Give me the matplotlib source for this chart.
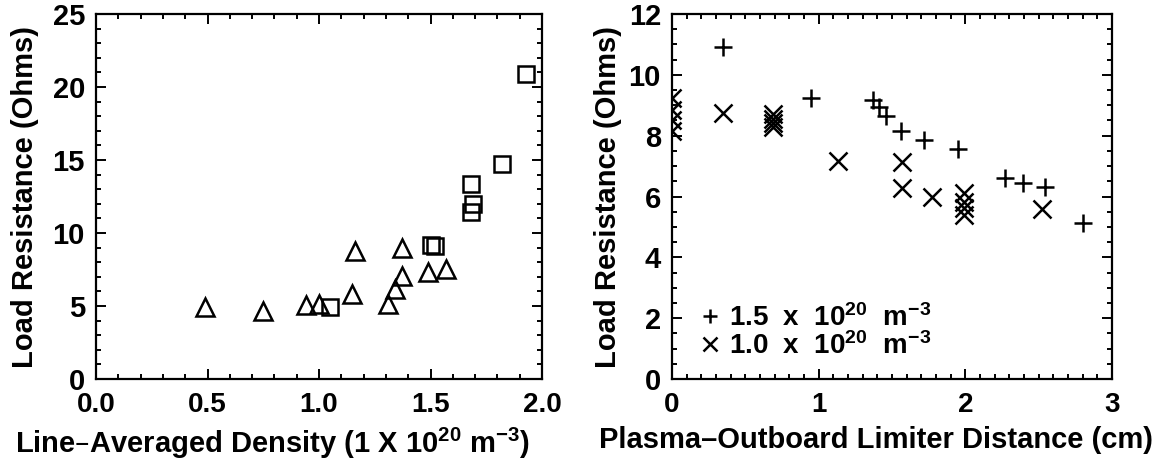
import matplotlib.pyplot as plt
from matplotlib.ticker import MultipleLocator, FormatStrFormatter
from matplotlib.transforms import ScaledTranslation

# load resistance vs line-averaged density
dens_tri = [0.49, 0.75, 0.94, 1.00, 1.15, 1.16, 1.31, 1.34, 1.37, 1.37, 1.49, 1.57]
res_tri = [4.95, 4.68, 5.07, 5.11, 5.82, 8.8, 5.14, 6.19, 7.05, 8.95, 7.33, 7.51]
dens_sq = [1.05, 1.50, 1.52, 1.68, 1.69, 1.68, 1.82, 1.93]
res_sq = [4.91, 9.18, 9.11, 13.33, 11.99, 11.46, 14.7, 20.9]

# load resistance vs plasma-limiter gap, two densities
gap_hi = [0.35, 0.95, 1.37, 1.41, 1.46, 1.56, 1.72, 1.95, 2.27, 2.39, 2.54, 2.80]
res_hi = [10.9, 9.23, 9.17, 8.95, 8.65, 8.15, 7.86, 7.56, 6.60, 6.45, 6.30, 5.14]
gap_lo = [0.0, 0.0, 0.0, 0.0, 0.35, 0.69, 0.69, 0.69, 0.69, 1.13, 1.57, 1.57,
          1.77, 1.99, 1.99, 1.99, 1.99, 2.52]
res_lo = [9.25, 8.85, 8.5, 8.15, 8.75, 8.7, 8.55, 8.42, 8.28, 7.18, 7.12, 6.27,
          5.99, 6.10, 5.83, 5.61, 5.40, 5.58]

plt.rcParams['mathtext.default'] = 'regular'
font = ['Liberation Sans', 'DejaVu Sans']

fig = plt.figure(figsize=(11.73, 4.59), dpi=100)
ax1 = fig.add_axes([96 / 1173, 80 / 459, 446 / 1173, 365 / 459])
ax2 = fig.add_axes([672 / 1173, 80 / 459, 440 / 1173, 365 / 459])

ax1.plot(dens_tri, res_tri, '^', ms=13, mfc='none', mec='black', mew=1.8)
ax1.plot(dens_sq, res_sq, 's', ms=12, mfc='none', mec='black', mew=1.8)
ax1.set_xlim(0, 2.0)
ax1.set_ylim(0, 25)
ax1.xaxis.set_major_locator(MultipleLocator(0.5))
ax1.xaxis.set_minor_locator(MultipleLocator(0.1))
ax1.xaxis.set_major_formatter(FormatStrFormatter('%.1f'))
ax1.yaxis.set_major_locator(MultipleLocator(5))
ax1.yaxis.set_minor_locator(MultipleLocator(1))
ax1.set_xlabel('Line\u2013Averaged Density (1 X 10$^{20}$ m$^{-3}$)',
               family=font, fontsize=21, fontweight='bold')
ax1.xaxis.set_label_coords(0.395, -0.128)
ax1.set_ylabel('Load Resistance (Ohms)', family=font, fontsize=21,
               fontweight='bold', labelpad=10)

ax2.plot(gap_hi, res_hi, '+', ms=13, mec='black', mew=1.8, label='1.5  x  10$^{20}$  m$^{-3}$')
ax2.plot(gap_lo, res_lo, 'x', ms=13, mec='black', mew=1.8, label='1.0  x  10$^{20}$  m$^{-3}$')
ax2.set_xlim(0, 3)
ax2.set_ylim(0, 12)
ax2.xaxis.set_major_locator(MultipleLocator(1))
ax2.xaxis.set_minor_locator(MultipleLocator(0.1))
ax2.yaxis.set_major_locator(MultipleLocator(2))
ax2.yaxis.set_minor_locator(MultipleLocator(0.5))
ax2.set_xlabel('Plasma\u2013Outboard Limiter Distance (cm)',
               family=font, fontsize=21, fontweight='bold')
ax2.xaxis.set_label_coords(0.464, -0.128)
ax2.set_ylabel('Load Resistance (Ohms)', family=font, fontsize=21,
               fontweight='bold', labelpad=5)

leg = ax2.legend(loc='lower left', bbox_to_anchor=(0.035, 0.015), frameon=False,
                 markerscale=0.75, handlelength=0.6, handletextpad=0.4,
                 labelspacing=0.0, borderpad=0,
                 prop={'family': font, 'size': 20, 'weight': 'bold'})

for ax in (ax1, ax2):
    for s in ax.spines.values():
        s.set_linewidth(1.6)
    ax.tick_params(which='both', direction='in', top=True, right=True, width=1.4)
    ax.tick_params(which='major', length=7)
    ax.tick_params(which='minor', length=3.5)
    ax.tick_params(axis='y', pad=8)
    ax.tick_params(axis='x', pad=9)
    for lab in ax.get_yticklabels():
        lab.set_family(font)
        lab.set_fontsize(21)
        lab.set_fontweight('bold')
    for lab in ax.get_xticklabels():
        lab.set_family(font)
        lab.set_fontsize(20)
        lab.set_fontweight('bold')
    # edge tick labels sit just inside the frame
    ylabs = ax.get_yticklabels()
    ylabs[0].set_transform(ylabs[0].get_transform() + ScaledTranslation(0, 0.07, fig.dpi_scale_trans))
    ylabs[-1].set_transform(ylabs[-1].get_transform() + ScaledTranslation(0, -0.09, fig.dpi_scale_trans))

fig.savefig('out.png', dpi=100, facecolor='white')
